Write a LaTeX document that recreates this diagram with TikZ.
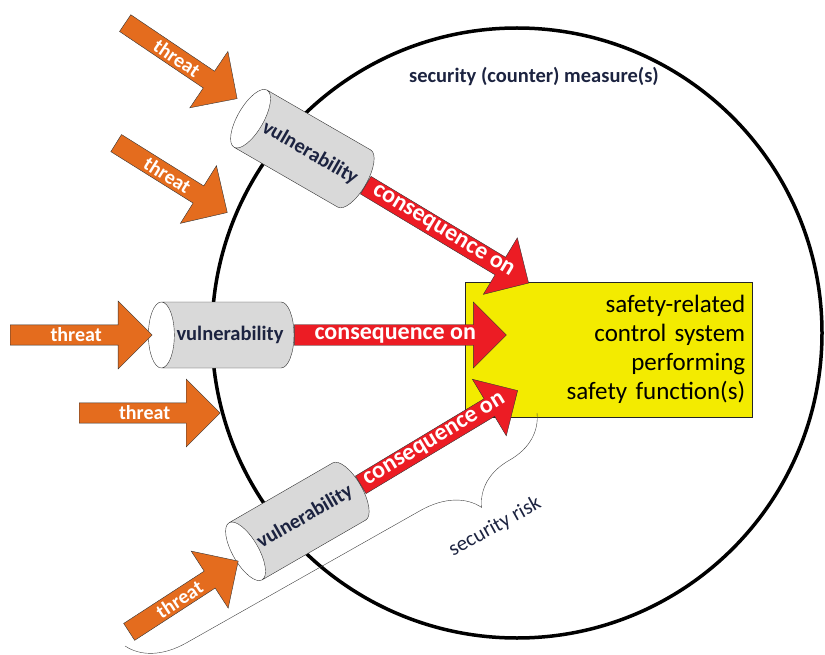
\documentclass[tikz,border=0pt]{standalone}
\usepackage{fontspec}
\setmainfont{Carlito}
\usetikzlibrary{shapes.geometric, shapes.arrows, decorations.pathreplacing, positioning}
\definecolor{threatorange}{HTML}{E46C1E}
\definecolor{consred}{HTML}{EC1C24}
\definecolor{safeyellow}{HTML}{F3EB00}
\definecolor{vulngray}{HTML}{D9D9D9}
\definecolor{inknavy}{HTML}{1C2340}

\begin{document}
\begin{tikzpicture}[x=1pt, y=-1pt,
      threat/.style={single arrow, draw=black!80, fill=threatorange, thin,
      minimum width=68pt, single arrow head extend=22pt, single arrow tip
      angle=90, inner sep=2pt, text=white,
      font=\fontsize{20pt}{24pt}\selectfont\bfseries},
      consequence/.style={single arrow, draw=black!80, fill=consred, thin,
      minimum width=66pt, single arrow head extend=20pt, single arrow tip
      angle=90, inner sep=1pt, text=white,
      font=\fontsize{24pt}{28pt}\selectfont\bfseries},
      vuln/.style={cylinder, draw=black!80, thin, shape border rotate=180,
      aspect=1.2, cylinder uses custom fill, cylinder end fill=white,
      cylinder body fill=vulngray, minimum width=66pt, minimum height=140pt,
      inner sep=2pt, text=inknavy,
      font=\fontsize{20.5pt}{24pt}\selectfont\bfseries},
      caption/.style={text=inknavy} ]
    \useasboundingbox (0,0) rectangle (825,655);

    % Security measures around the system
    \node[draw, circle, line width=3.5pt, minimum size=610pt, inner sep=0pt]
    (measure) at (517,333) {};
    \node[caption, font=\fontsize{20.5pt}{24pt}\selectfont\bfseries]
    (measuretxt) at (534,77) {security (counter) measure(s)};

    % Protected system
    \node[draw=black!85, fill=safeyellow, anchor=north west, text width=273pt,
    align=right, inner sep=7pt, minimum height=135pt,
    font=\fontsize{25pt}{29pt}\selectfont] (safety) at (465,282)
    {safety-related\\control system\\performing\\safety function(s)};

    % Vulnerabilities
    \node[vuln, rotate=-30] (vulnTop) at (310,153) {vulnerability};
    \node[vuln] (vulnMid) at (230,335) {vulnerability};
    \node[vuln, rotate=30] (vulnBot) at (305,517) {vulnerability};

    % Consequences on the system
    \node[consequence, minimum height=190pt, rotate=-31, anchor=tail]
    (consTop) at (vulnTop.east) {consequence on};
    \node[consequence, minimum height=212pt, anchor=tail] (consMid) at
    (vulnMid.east) {consequence on};
    \node[consequence, minimum height=183pt, rotate=31, anchor=tail]
    (consBot) at (vulnBot.east) {consequence on};

    % Threats
    \node[threat, minimum height=135pt, rotate=-34, anchor=tail] (threat1)
    at (125,23) {threat};
    \node[threat, minimum height=131pt, rotate=-32, anchor=tail] (threat2)
    at (116,143) {threat};
    \node[threat, minimum height=142pt, anchor=tail] (threat3) at (10,335)
    {threat};
    \node[threat, minimum height=141pt, anchor=tail] (threat4) at (79,413)
    {threat};
    \node[threat, minimum height=130pt, rotate=33, anchor=tail] (threat5)
    at (129,632) {threat};

    % Security risk brace
    \coordinate (riskTop) at (537,413);
    \coordinate (riskBot) at (125,646);
    \draw[black!75, thin, decorate, decoration={brace, amplitude=55pt,
    aspect=0.2}] (riskTop) -- (riskBot);
    \node[caption, rotate=29, font=\fontsize{21pt}{24pt}\selectfont] (risk)
    at (495,527) {security risk};
\end{tikzpicture}
\end{document}
